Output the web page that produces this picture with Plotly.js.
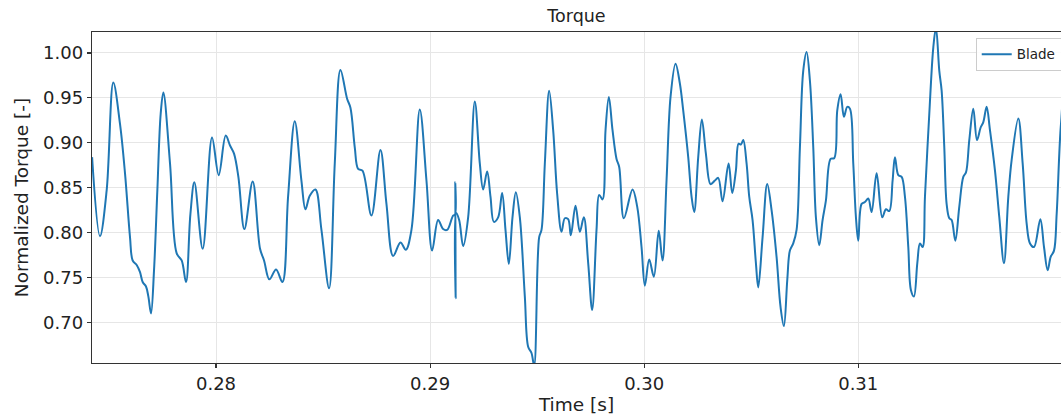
<!DOCTYPE html>
<html>
<head>
<meta charset="utf-8">
<script src="https://cdn.plot.ly/plotly-3.0.1.min.js"></script>
<style>
html, body { margin: 0; padding: 0; overflow: hidden; background: #fff; }
#chart { width: 1061px; height: 419px; }
</style>
</head>
<body>
<div id="chart"></div>
<script>
// Time [s]
var time = [
0.274210, 0.274579, 0.274891, 0.275202, 0.275514, 0.275748, 0.275981, 0.276106, 0.276293, 0.276449,
0.276573, 0.276729, 0.276838, 0.276963, 0.277103, 0.277259, 0.277414, 0.277539, 0.277850, 0.278162,
0.278396, 0.278598, 0.278801, 0.278988, 0.279377, 0.279813, 0.280125, 0.280452, 0.280654, 0.280841,
0.281044, 0.281324, 0.281713, 0.282056, 0.282243, 0.282492, 0.282804, 0.283101, 0.283366, 0.283678,
0.283989, 0.284176, 0.284379, 0.284643, 0.284924, 0.285282, 0.285547, 0.285812, 0.286123, 0.286279,
0.286481, 0.286637, 0.286840, 0.287260, 0.287681, 0.287961, 0.288273, 0.288615, 0.288864, 0.289129,
0.289519, 0.289830, 0.290095, 0.290375, 0.290609, 0.290796, 0.291076, 0.291160, 0.291175, 0.291195,
0.291210, 0.291357, 0.291544, 0.291777, 0.292089, 0.292322, 0.292478, 0.292665, 0.292821, 0.292977,
0.293179, 0.293366, 0.293522, 0.293678, 0.293849, 0.294005, 0.294192, 0.294425, 0.294581, 0.294737,
0.294861, 0.295095, 0.295204, 0.295360, 0.295562, 0.295749, 0.295936, 0.296139, 0.296294, 0.296450,
0.296575, 0.296793, 0.296995, 0.297182, 0.297385, 0.297571, 0.297774, 0.297899, 0.298055, 0.298195,
0.298350, 0.298522, 0.298709, 0.298833, 0.299051, 0.299457, 0.299674, 0.299877, 0.300033, 0.300235,
0.300453, 0.300680, 0.300858, 0.301045, 0.301232, 0.301466, 0.301668, 0.301824, 0.302058, 0.302214,
0.302338, 0.302525, 0.302696, 0.302883, 0.303101, 0.303304, 0.303459, 0.303662, 0.303943, 0.304114,
0.304285, 0.304410, 0.304520, 0.304628, 0.304784, 0.304908, 0.305064, 0.305220, 0.305329, 0.305532,
0.305749, 0.305952, 0.306185, 0.306372, 0.306528, 0.306684, 0.306808, 0.306964, 0.307120, 0.307276,
0.307431, 0.307587, 0.307743, 0.307899, 0.308023, 0.308179, 0.308335, 0.308491, 0.308709, 0.308880,
0.309020, 0.309176, 0.309332, 0.309488, 0.309612, 0.309768, 0.309893, 0.310001, 0.310158, 0.310313,
0.310469, 0.310625, 0.310859, 0.311123, 0.311294, 0.311450, 0.311606, 0.311715, 0.311871, 0.312027,
0.312182, 0.312338, 0.312463, 0.312603, 0.312759, 0.312883, 0.313008, 0.313117, 0.313319, 0.313506,
0.313631, 0.313787, 0.313896, 0.314020, 0.314129, 0.314254, 0.314363, 0.314534, 0.314721, 0.314908,
0.315033, 0.315188, 0.315375, 0.315547, 0.315718, 0.315843, 0.315999, 0.316154, 0.316388, 0.316590,
0.316808, 0.317011, 0.317167, 0.317478, 0.317681, 0.317868, 0.318024, 0.318211, 0.318506, 0.318678,
0.318849, 0.318989, 0.319145, 0.319270, 0.319472, 0.319650, 0.320000
];
// Normalized Torque [-] (Blade)
var torque = [
0.884, 0.796, 0.847, 0.967, 0.921, 0.866, 0.795, 0.769, 0.764, 0.756,
0.745, 0.740, 0.729, 0.710, 0.758, 0.847, 0.932, 0.956, 0.877, 0.777,
0.769, 0.745, 0.820, 0.856, 0.782, 0.906, 0.864, 0.908, 0.897, 0.888,
0.862, 0.804, 0.857, 0.782, 0.769, 0.748, 0.759, 0.745, 0.840, 0.924,
0.858, 0.826, 0.841, 0.848, 0.803, 0.738, 0.877, 0.981, 0.949, 0.939,
0.895, 0.871, 0.869, 0.819, 0.892, 0.832, 0.774, 0.789, 0.781, 0.803,
0.937, 0.858, 0.780, 0.814, 0.804, 0.803, 0.819, 0.820, 0.856, 0.727,
0.822, 0.814, 0.785, 0.817, 0.946, 0.877, 0.848, 0.868, 0.840, 0.812,
0.817, 0.844, 0.803, 0.765, 0.817, 0.845, 0.817, 0.729, 0.673, 0.666,
0.652, 0.795, 0.803, 0.877, 0.958, 0.914, 0.843, 0.801, 0.816, 0.815,
0.797, 0.830, 0.801, 0.817, 0.766, 0.714, 0.803, 0.842, 0.837, 0.914,
0.951, 0.914, 0.882, 0.873, 0.816, 0.848, 0.829, 0.784, 0.741, 0.770,
0.751, 0.802, 0.769, 0.858, 0.951, 0.988, 0.966, 0.936, 0.884, 0.840,
0.823, 0.884, 0.926, 0.888, 0.854, 0.858, 0.861, 0.835, 0.877, 0.844,
0.869, 0.899, 0.898, 0.903, 0.877, 0.840, 0.814, 0.766, 0.739, 0.795,
0.854, 0.825, 0.773, 0.717, 0.696, 0.747, 0.780, 0.788, 0.803, 0.895,
0.980, 1.001, 0.969, 0.895, 0.817, 0.786, 0.814, 0.836, 0.882, 0.883,
0.936, 0.954, 0.929, 0.940, 0.938, 0.877, 0.817, 0.791, 0.832, 0.834,
0.838, 0.823, 0.866, 0.817, 0.826, 0.824, 0.858, 0.884, 0.864, 0.862,
0.840, 0.784, 0.736, 0.729, 0.766, 0.788, 0.784, 0.840, 0.932, 1.006,
1.028, 0.980, 0.958, 0.895, 0.832, 0.816, 0.814, 0.791, 0.829, 0.862,
0.867, 0.903, 0.938, 0.903, 0.917, 0.923, 0.940, 0.914, 0.869, 0.817,
0.766, 0.840, 0.881, 0.927, 0.877, 0.810, 0.788, 0.784, 0.815, 0.784,
0.758, 0.773, 0.780, 0.821, 0.921, 0.955, 0.940
];
var xTickVals = [0.28, 0.29, 0.30, 0.31];
var xTickText = ["0.28", "0.29", "0.30", "0.31"];
var yTickVals = [0.70, 0.75, 0.80, 0.85, 0.90, 0.95, 1.00];
var yTickText = ["0.70", "0.75", "0.80", "0.85", "0.90", "0.95", "1.00"];
var seriesName = "Blade";

var font = "DejaVu Sans, sans-serif";
var trace = {
  x: time, y: torque, type: "scatter", mode: "lines", name: seriesName,
  line: { color: "#1f77b4", width: 2, shape: "spline", smoothing: 1 }
};
var axisCommon = {
  showline: true, linecolor: "#333333", linewidth: 1.2,
  showgrid: true, gridcolor: "#e6e6e6", gridwidth: 1,
  ticks: "outside", ticklen: 4, tickwidth: 1.2, tickcolor: "#333333",
  zeroline: false, automargin: false,
  tickfont: { family: font, size: 18, color: "#222222" }
};
var layout = {
  width: 1061, height: 419,
  margin: { l: 92, r: 0, t: 32, b: 56, autoexpand: false },
  paper_bgcolor: "#ffffff", plot_bgcolor: "#ffffff",
  showlegend: true,
  title: { text: "Torque", font: { family: font, size: 17.5, color: "#222222" },
           x: 0.5, xref: "paper", y: 0.962, yref: "container", yanchor: "middle" },
  xaxis: Object.assign({}, axisCommon, {
    mirror: true,
    range: [0.274206, 0.319472], tickmode: "array", tickvals: xTickVals, ticktext: xTickText,
    title: { text: "Time [s]", font: { family: font, size: 18.5, color: "#222222" }, standoff: 5 }
  }),
  yaxis: Object.assign({}, axisCommon, {
    mirror: false,
    range: [0.6549, 1.0233], tickmode: "array", tickvals: yTickVals, ticktext: yTickText,
    title: { text: "Normalized Torque [-]", font: { family: font, size: 18.5, color: "#222222" }, standoff: 9 }
  }),
  legend: {
    x: 0.912, xanchor: "left", y: 0.982, yanchor: "top",
    bgcolor: "rgba(255,255,255,0.85)", bordercolor: "#cccccc", borderwidth: 1,
    font: { family: font, size: 13.5, color: "#222222" },
    itemwidth: 30
  }
};
Plotly.newPlot("chart", [trace], layout, { displayModeBar: false, staticPlot: true });
</script>
</body>
</html>
